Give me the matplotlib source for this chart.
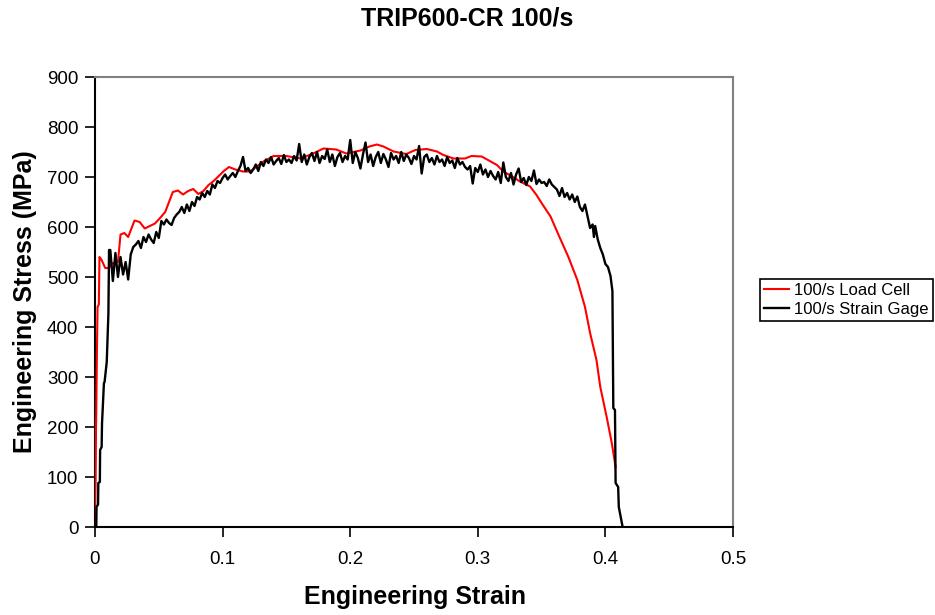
import matplotlib
matplotlib.use("Agg")
import matplotlib.pyplot as plt

plt.rcParams['font.family'] = ['Liberation Sans', 'DejaVu Sans']

# ---------------- data ----------------
title = "TRIP600-CR 100/s"
x_label = "Engineering Strain"
y_label = "Engineering Stress (MPa)"
series_names = ["100/s Load Cell", "100/s Strain Gage"]

x_ticks = [0, 0.1, 0.2, 0.3, 0.4, 0.5]
x_tick_labels = ["0", "0.1", "0.2", "0.3", "0.4", "0.5"]
y_ticks = [0, 100, 200, 300, 400, 500, 600, 700, 800, 900]

load_strain = [0.0, 0.0005, 0.0008, 0.0010, 0.0015, 0.0020, 0.0030, 0.0035, 0.005, 0.008,
               0.011, 0.014, 0.018, 0.020, 0.023, 0.026, 0.029, 0.031, 0.035, 0.039,
               0.043, 0.047, 0.051, 0.055, 0.058, 0.061, 0.065, 0.069, 0.073, 0.077,
               0.081, 0.085, 0.089, 0.093, 0.097, 0.101, 0.105, 0.110, 0.116, 0.1215,
               0.132, 0.140, 0.150, 0.161, 0.171, 0.179, 0.189, 0.197, 0.208, 0.215,
               0.221, 0.226, 0.234, 0.244, 0.251, 0.260, 0.268, 0.273, 0.281, 0.290,
               0.295, 0.303, 0.308, 0.315, 0.320, 0.327, 0.333, 0.341, 0.346, 0.351,
               0.357, 0.364, 0.371, 0.378, 0.384, 0.388, 0.393, 0.396, 0.401, 0.405,
               0.408]
load_stress = [0, 100, 200, 230, 350, 440, 445, 540, 535, 518,
               518, 528, 530, 585, 588, 580, 600, 613, 610, 597,
               602, 607, 618, 630, 650, 670, 673, 665, 672, 676,
               666, 672, 684, 692, 702, 712, 720, 715, 711, 711,
               731, 742, 742, 737, 747, 757, 755, 747, 753, 761,
               765, 761, 751, 746, 754, 756, 751, 744, 737, 737,
               742, 741, 734, 724, 711, 701, 691, 681, 664, 644,
               621, 580, 540, 494, 440, 388, 334, 280, 220, 168,
               120]

gage_strain = [0.0, 0.0010, 0.0012, 0.0024, 0.0026, 0.0038, 0.0040, 0.0052, 0.0055, 0.0070,
               0.0075, 0.0088, 0.0092, 0.0105, 0.0110,
               0.012, 0.014, 0.016, 0.018, 0.020, 0.022, 0.024, 0.026, 0.028, 0.030,
               0.032, 0.034, 0.036, 0.038, 0.040, 0.042, 0.044, 0.046, 0.048, 0.050,
               0.052, 0.054, 0.056, 0.058, 0.060, 0.062, 0.064, 0.066, 0.068, 0.070,
               0.072, 0.074, 0.076, 0.078, 0.080, 0.082, 0.084, 0.086, 0.088, 0.090,
               0.092, 0.094, 0.096, 0.098, 0.100, 0.102, 0.104, 0.106, 0.108, 0.110,
               0.112, 0.114, 0.116, 0.118, 0.120, 0.122, 0.124, 0.126, 0.128, 0.130,
               0.132, 0.134, 0.136, 0.138, 0.140, 0.142, 0.144, 0.146, 0.148, 0.150,
               0.152, 0.154, 0.156, 0.158, 0.160, 0.162, 0.164, 0.166, 0.168, 0.170,
               0.172, 0.174, 0.176, 0.178, 0.180, 0.182, 0.184, 0.186, 0.188, 0.190,
               0.192, 0.194, 0.196, 0.198, 0.200, 0.202, 0.204, 0.206, 0.208, 0.210,
               0.212, 0.214, 0.216, 0.218, 0.220, 0.222, 0.224, 0.226, 0.228, 0.230,
               0.232, 0.234, 0.236, 0.238, 0.240, 0.242, 0.244, 0.246, 0.248, 0.250,
               0.252, 0.254, 0.256, 0.258, 0.260, 0.262, 0.264, 0.266, 0.268, 0.270,
               0.272, 0.274, 0.276, 0.278, 0.280, 0.282, 0.284, 0.286, 0.288, 0.290,
               0.292, 0.294, 0.296, 0.298, 0.300, 0.302, 0.304, 0.306, 0.308, 0.310,
               0.312, 0.314, 0.316, 0.318, 0.320, 0.322, 0.324, 0.326, 0.328, 0.330,
               0.332, 0.334, 0.336, 0.338, 0.340, 0.342, 0.344, 0.346, 0.348, 0.350,
               0.352, 0.354, 0.356, 0.358, 0.360,
               0.362, 0.364, 0.366, 0.368, 0.370, 0.372, 0.374, 0.376, 0.378, 0.380,
               0.382, 0.384, 0.386, 0.388, 0.390, 0.391, 0.392, 0.394, 0.396, 0.398,
               0.400, 0.402, 0.404, 0.4055, 0.4062, 0.4075, 0.4080, 0.4100, 0.4105, 0.4125,
               0.4135]
gage_stress = [0, 0, 40, 45, 88, 90, 154, 160, 207, 288,
               290, 321, 330, 427, 554,
               554, 492, 548, 500, 540, 505, 530, 495, 545, 560,
               565, 572, 558, 580, 570, 585, 575, 568, 590, 578,
               612, 605, 615, 608, 604, 618, 625, 630, 640, 628,
               645, 632, 650, 642, 660, 655, 668, 660, 672, 665,
               685, 678, 692, 688, 698, 705, 695, 702, 708, 700,
               712, 722, 740, 712, 718, 708, 715, 725, 712, 730,
               722, 735, 728, 740, 725, 732, 738, 726, 744, 730,
               735, 728, 742, 733, 766, 730, 745, 725, 740, 748,
               732, 750, 728, 742, 736, 755, 730, 745, 722, 740,
               748, 730, 742, 735, 774, 728, 750, 738, 717, 745,
               769, 730, 745, 722, 740, 750, 728, 746, 735, 720,
               748, 735, 742, 728, 750, 732, 745, 738, 726, 742,
               735, 762, 707, 740, 745, 730, 738, 725, 742, 730,
               735, 722, 740, 728, 733, 718, 738, 725, 730, 720,
               715, 722, 687, 718, 710, 725, 705, 715, 700, 712,
               702, 695, 710, 688, 729, 700, 692, 708, 685, 705,
               717, 690, 698, 684, 700, 692, 713, 686, 695, 688,
               690, 682, 695, 685, 680,
               675, 662, 678, 660, 668, 655, 665, 650, 661, 640,
               632, 645, 622, 598, 605, 580, 602, 575, 558, 545,
               526, 520, 502, 472, 238, 234, 88, 80, 40, 14,
               0]

# ---------------- plot ----------------
fig = plt.figure(figsize=(9.35, 6.15), dpi=100)
ax = fig.add_axes([95/935, 1-527/615, (733-95)/935, (527-77)/615])

ax.plot(load_strain, load_stress, color="#ff0000", lw=1.5, label=series_names[0], zorder=3)
ax.plot(gage_strain, gage_stress, color="black", lw=1.7, label=series_names[1], zorder=4)

ax.set_xlim(0, 0.5)
ax.set_ylim(0, 900)
ax.set_xticks(x_ticks)
ax.set_xticklabels(x_tick_labels)
ax.set_yticks(y_ticks)
ax.tick_params(axis='both', direction='out', length=7, width=1.2, labelsize=13.5, color='black')
ax.tick_params(axis='x', pad=10)
ax.tick_params(axis='y', pad=5)

for side in ['left', 'bottom']:
    ax.spines[side].set_color('black')
    ax.spines[side].set_linewidth(1.5)
for side in ['top', 'right']:
    ax.spines[side].set_color('#808080')
    ax.spines[side].set_linewidth(1.5)

fig.text(467/935, 1-19/615, title, ha='center', va='center', fontsize=18, fontweight='bold')
fig.text(415/935, 1-597/615, x_label, ha='center', va='center', fontsize=18, fontweight='bold')
fig.text(25/935, 1-302/615, y_label, ha='center', va='center', rotation=90, fontsize=18, fontweight='bold')

leg = fig.legend(loc='center left', bbox_to_anchor=(760/935, 1-300/615), fontsize=12,
                 frameon=True, fancybox=False, edgecolor='black', framealpha=1,
                 handlelength=1.5, handletextpad=0.3, borderpad=0.25, labelspacing=0.25,
                 borderaxespad=0)
leg.get_frame().set_linewidth(1.2)

fig.savefig("out.png", dpi=100)
